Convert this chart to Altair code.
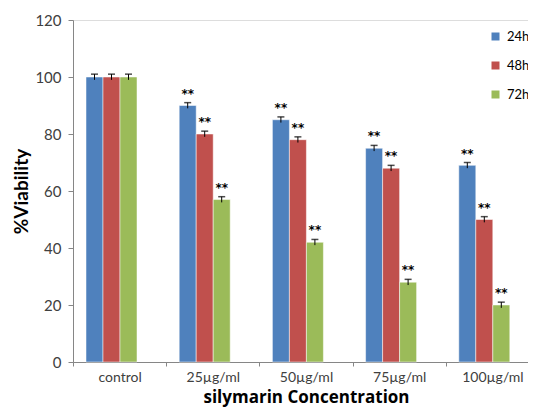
import altair as alt
import pandas as pd

categories = ["control", "25µg/ml", "50µg/ml", "75µg/ml", "100µg/ml"]
series = ["24h", "48h", "72h"]
v24 = [100, 90, 85, 75, 69]
v48 = [100, 80, 78, 68, 50]
v72 = [100, 57, 42, 28, 20]
e24 = [1.0, 1.0, 1.0, 1.0, 1.0]
e48 = [1.0, 1.0, 1.0, 1.0, 1.0]
e72 = [1.0, 1.0, 1.0, 1.0, 1.0]
stars = ["", "**", "**", "**", "**"]
colors = ["#4F81BD", "#C0504D", "#9BBB59"]

rows = []
for s, vals, errs in zip(series, [v24, v48, v72], [e24, e48, e72]):
    for c, v, e, st in zip(categories, vals, errs, stars):
        rows.append({"conc": c, "time": s, "value": v, "lo": v - e, "hi": v + e, "star": st})
df = pd.DataFrame(rows)

FONT = "Lato"

x = alt.X("conc:N", sort=categories,
          scale=alt.Scale(range=[0, 466], paddingInner=0, paddingOuter=0),
          axis=alt.Axis(title="silymarin Concentration", labelAngle=0, tickBand="extent",
                        labelFontSize=14, labelColor="#404040", labelFont=FONT,
                        labelPadding=4, tickSize=4, tickColor="#868686",
                        domainColor="#868686", titleFontSize=17, titleFont="Open Sans",
                        titleFontWeight="bold", titleColor="#000000", titlePadding=5))
xo = alt.XOffset("time:N", sort=series,
                 scale=alt.Scale(range=[13, 64], paddingInner=0, paddingOuter=0))
y = alt.Y("value:Q", scale=alt.Scale(domain=[0, 120]),
          axis=alt.Axis(title="%Viability", values=[0, 20, 40, 60, 80, 100, 120], grid=False,
                        labelFontSize=15, labelColor="#404040", labelFont=FONT,
                        tickSize=5, tickColor="#868686", domainColor="#868686",
                        labelPadding=7, titleFontSize=19, titleFont=FONT,
                        titleFontWeight="bold", titleColor="#000000", titlePadding=3))

color = alt.Color("time:N", sort=series,
                  scale=alt.Scale(domain=series, range=colors),
                  legend=alt.Legend(title=None, orient="none", legendX=416, legendY=10,
                                    symbolType="square", symbolSize=64, symbolStrokeWidth=0,
                                    labelFontSize=13, labelFont=FONT, labelColor="#000000",
                                    rowPadding=15, labelOffset=5))

bars = alt.Chart(df).mark_bar(stroke="white", strokeWidth=0.5).encode(x=x, xOffset=xo, y=y, color=color)

err = alt.Chart(df).mark_rule(strokeWidth=1).encode(
    x=x, xOffset=xo, y="lo:Q", y2="hi:Q", color=alt.value("#000000"))
caps = alt.Chart(df).mark_tick(thickness=1.5, size=7, orient="horizontal").encode(
    x=x, xOffset=xo, y="hi:Q", color=alt.value("#000000"))
txt = alt.Chart(df).mark_text(baseline="bottom", dy=-2, fontSize=12, fontWeight="bold",
                              font="DejaVu Sans").encode(
    x=x, xOffset=xo, y="hi:Q", text="star:N", color=alt.value("#000000"))

chart = alt.layer(bars, err, caps, txt).properties(
    width=455, height=342,
    autosize=alt.AutoSizeParams(type="none"),
    padding={"left": 65, "top": 12, "right": 0, "bottom": 46},
).configure_view(stroke=None).configure(background="white")

chart.save("out.html", embed_options={"renderer": "svg", "actions": False})
